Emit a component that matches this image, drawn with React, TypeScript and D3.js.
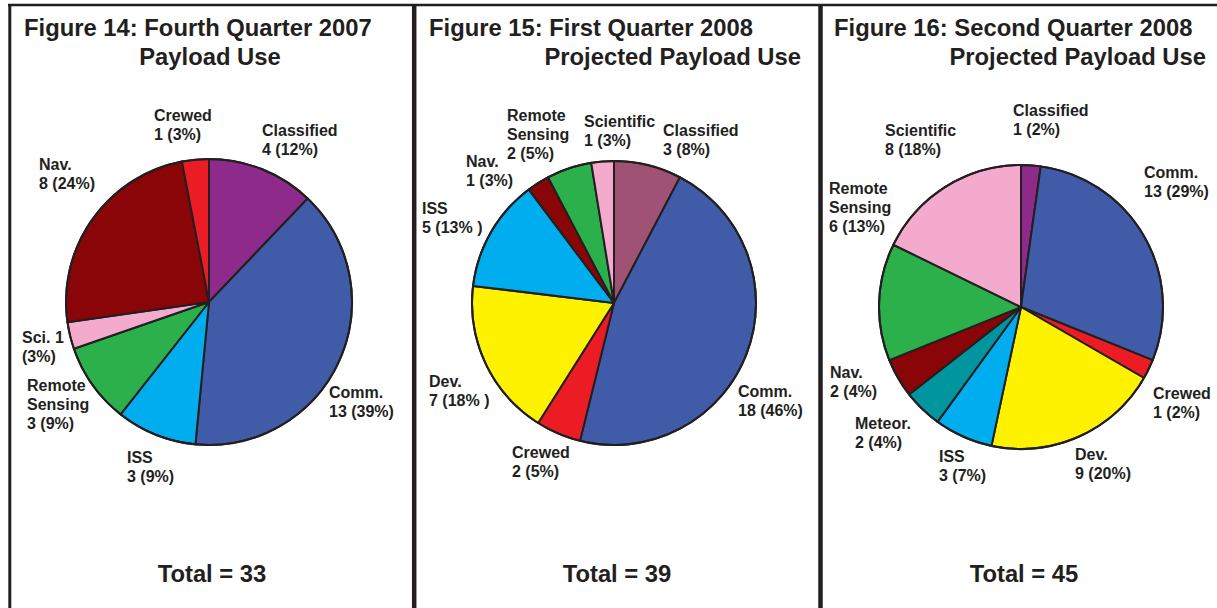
import React from "react";
import * as d3 from "d3";

// ---------- data ----------
const q4Categories = ["Classified", "Comm.", "ISS", "Remote Sensing", "Sci.", "Nav.", "Crewed"];
const q4Values = [4, 13, 3, 3, 1, 8, 1];
const q4Labels = ["Classified\n4 (12%)", "Comm.\n13 (39%)", "ISS\n3 (9%)", "Remote\nSensing\n3 (9%)", "Sci. 1\n(3%)", "Nav.\n8 (24%)", "Crewed\n1 (3%)"];

const q1Categories = ["Classified", "Comm.", "Crewed", "Dev.", "ISS", "Nav.", "Remote Sensing", "Scientific"];
const q1Values = [3, 18, 2, 7, 5, 1, 2, 1];
const q1Labels = ["Classified\n3 (8%)", "Comm.\n18 (46%)", "Crewed\n2 (5%)", "Dev.\n7 (18% )", "ISS\n5 (13% )", "Nav.\n1 (3%)", "Remote\nSensing\n2 (5%)", "Scientific\n1 (3%)"];

const q2Categories = ["Classified", "Comm.", "Crewed", "Dev.", "ISS", "Meteor.", "Nav.", "Remote Sensing", "Scientific"];
const q2Values = [1, 13, 1, 9, 3, 2, 2, 6, 8];
const q2Labels = ["Classified\n1 (2%)", "Comm.\n13 (29%)", "Crewed\n1 (2%)", "Dev.\n9 (20%)", "ISS\n3 (7%)", "Meteor.\n2 (4%)", "Nav.\n2 (4%)", "Remote\nSensing\n6 (13%)", "Scientific\n8 (18%)"];

const titles = [
  ["Figure 14: Fourth Quarter 2007", "Payload Use"],
  ["Figure 15: First Quarter 2008", "Projected Payload Use"],
  ["Figure 16: Second Quarter 2008", "Projected Payload Use"],
];

// ---------- styles ----------
const colorByCategory: Record<string, string> = {
  "Classified": "#8d2a8a",
  "Comm.": "#405ca9",
  "ISS": "#00aeef",
  "Remote Sensing": "#2bb04b",
  "Sci.": "#f4aacd",
  "Scientific": "#f4aacd",
  "Nav.": "#890507",
  "Crewed": "#ec1c24",
  "Dev.": "#fff200",
  "Meteor.": "#00959f",
};
const classifiedQ1 = "#a05275";
const INK = "#231f20";
const FONT = "'Liberation Sans', Arial, Helvetica, sans-serif";
const TITLE_SIZE = 23.8;
const LABEL_SIZE = 16;

// ---------- layout (positions relative to pie centre, for label text) ----------
const q4LabelPos = [[53, -166], [120, 96], [-82, 161], [-182, 89], [-187, 41], [-170, -132], [-55, -181]];
const q1LabelPos = [[49, -167], [124, 94], [-102, 155], [-185, 84], [-192, -89], [-148, -136], [-107, -182], [-30, -176]];
const q2LabelPos = [[-8, -191], [123, -129], [132, 92], [54, 153], [-82, 155], [-166, 122], [-191, 71], [-192, -113], [-136, -171]];

const panels = [
  { cats: q4Categories, vals: q4Values, labels: q4Labels, pos: q4LabelPos, cx: 209, cy: 302, r: 143, title: titles[0], t1x: 24, t2x: 210, t2anchor: "middle", colors: {} as Record<string, string> },
  { cats: q1Categories, vals: q1Values, labels: q1Labels, pos: q1LabelPos, cx: 614, cy: 303, r: 142, title: titles[1], t1x: 429, t2x: 801, t2anchor: "end", colors: { "Classified": classifiedQ1 } as Record<string, string> },
  { cats: q2Categories, vals: q2Values, labels: q2Labels, pos: q2LabelPos, cx: 1021, cy: 307, r: 142, title: titles[2], t1x: 834, t2x: 1206, t2anchor: "end", colors: {} as Record<string, string> },
];

function Pie({ p }: { p: (typeof panels)[number] }) {
  const pie = d3.pie<number>().sort(null).value((d) => d);
  const arcs = pie(p.vals);
  const arc = d3.arc<d3.PieArcDatum<number>>().innerRadius(0).outerRadius(p.r);
  const total = d3.sum(p.vals);
  return (
    <g>
      <g transform={`translate(${p.cx},${p.cy})`}>
        {arcs.map((a, i) => (
          <path
            key={i}
            d={arc(a) || ""}
            fill={p.colors[p.cats[i]] || colorByCategory[p.cats[i]]}
            stroke={INK}
            strokeWidth={2}
            strokeLinejoin="round"
          />
        ))}
        <circle r={p.r} fill="none" stroke={INK} strokeWidth={2} />
        {p.labels.map((lab, i) => (
          <text
            key={i}
            x={p.pos[i][0]}
            y={p.pos[i][1]}
            fontFamily={FONT}
            fontWeight="bold"
            fontSize={LABEL_SIZE}
            fill={INK}
          >
            {lab.split("\n").map((ln, j) => (
              <tspan key={j} x={p.pos[i][0]} dy={j === 0 ? 0 : 19}>
                {ln}
              </tspan>
            ))}
          </text>
        ))}
      </g>
      <text x={p.t1x} y={36} fontFamily={FONT} fontWeight="bold" fontSize={TITLE_SIZE} fill={INK}>
        {p.title[0]}
      </text>
      <text x={p.t2x} y={65} textAnchor={p.t2anchor} fontFamily={FONT} fontWeight="bold" fontSize={TITLE_SIZE} fill={INK}>
        {p.title[1]}
      </text>
      <text x={p.cx + 3} y={582} textAnchor="middle" fontFamily={FONT} fontWeight="bold" fontSize={TITLE_SIZE} fill={INK}>
        {`Total = ${total}`}
      </text>
    </g>
  );
}

export default function App() {
  return (
    <svg
      width={1217}
      height={608}
      style={{ position: "absolute", left: 0, top: 0, background: "#fff" }}
    >
      <rect x={0} y={0} width={1217} height={608} fill="#fff" />
      {panels.map((p, i) => (
        <Pie key={i} p={p} />
      ))}
      <line x1={8} x2={1217} y1={5} y2={5} stroke={INK} strokeWidth={2.5} />
      <line x1={9.8} x2={9.8} y1={4} y2={608} stroke={INK} strokeWidth={3} />
      <line x1={414.2} x2={414.2} y1={4} y2={608} stroke={INK} strokeWidth={4.5} />
      <line x1={820.5} x2={820.5} y1={4} y2={608} stroke={INK} strokeWidth={4.5} />
    </svg>
  );
}
